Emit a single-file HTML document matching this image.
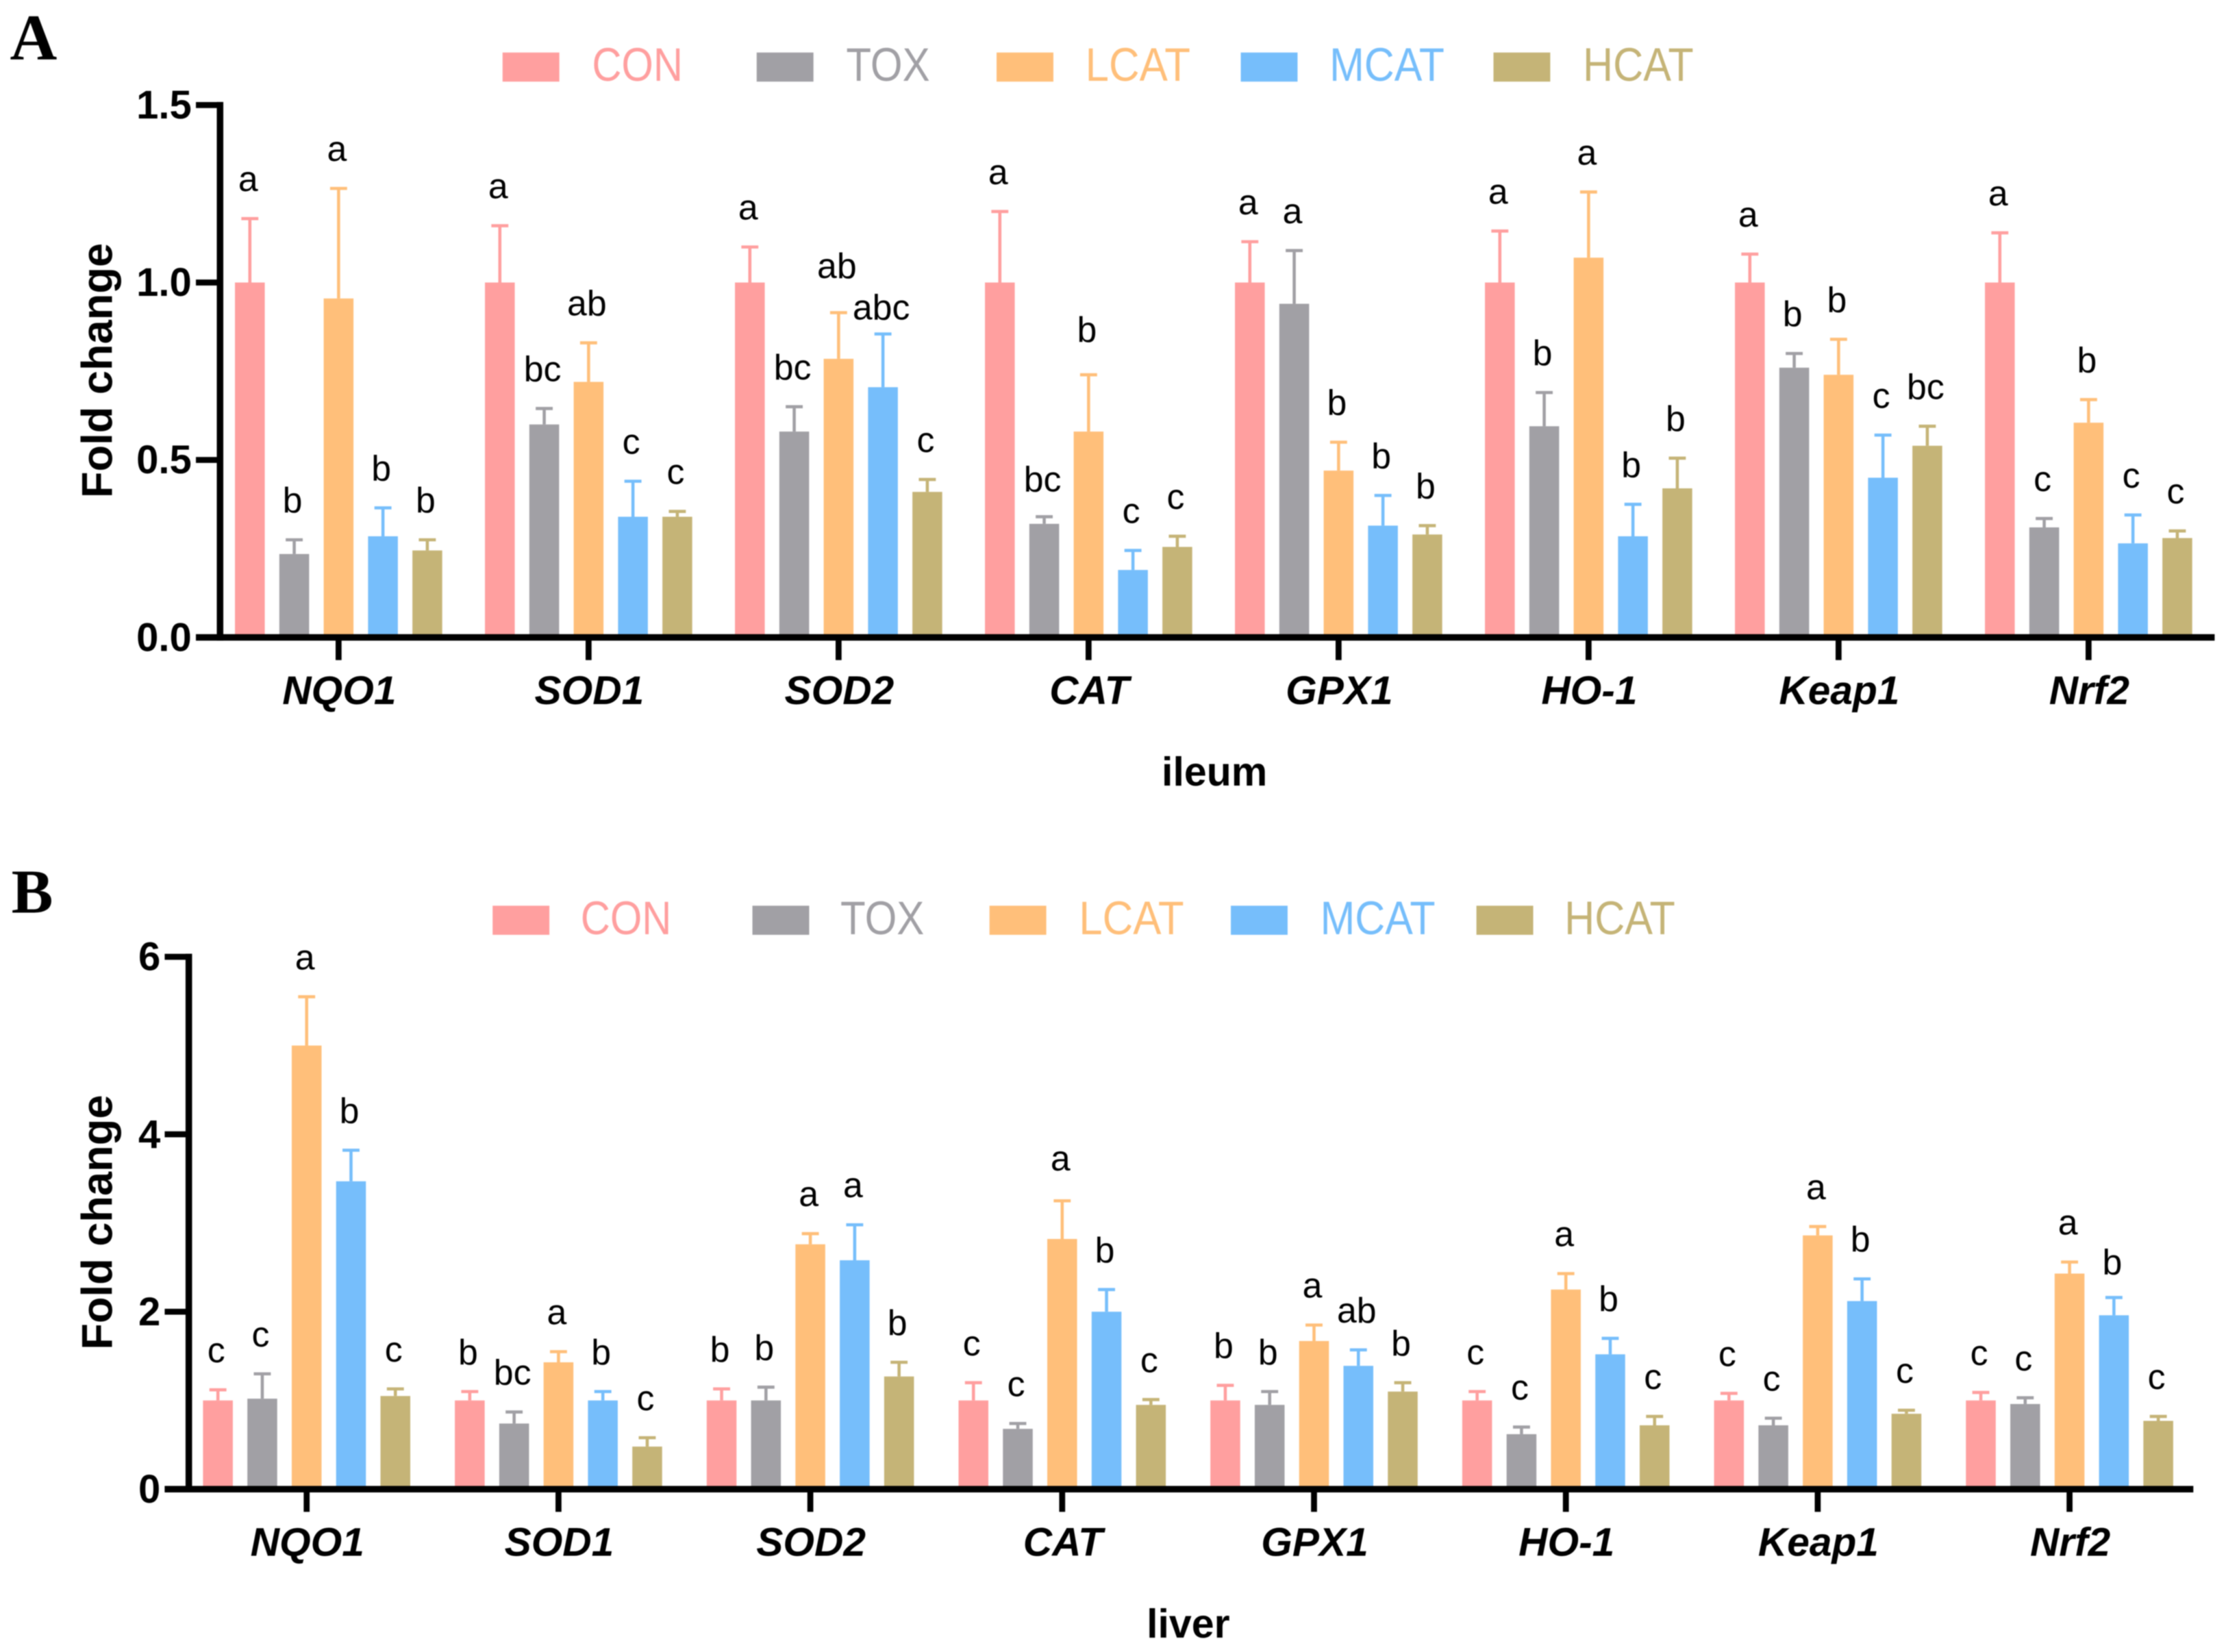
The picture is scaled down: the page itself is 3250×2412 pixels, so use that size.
<!DOCTYPE html>
<html lang="en">
<head>
<meta charset="utf-8">
<title>Fold change of antioxidant genes in ileum and liver</title>
<style>
html,body{margin:0;padding:0;background:#fff;width:3250px;height:2412px;overflow:hidden}
svg{display:block;filter:blur(.8px)}
text{font-family:"Liberation Sans",sans-serif}
</style>
</head>
<body>
<svg id="figure" xmlns="http://www.w3.org/2000/svg" width="3250" height="2412" viewBox="0 0 1568 1163.7">
  <rect x="0" y="0" width="1568" height="1164" fill="#fff"/>
  <text x="7" y="42" style="font-family:'Liberation Serif',serif;font-weight:700;font-size:46px">A</text>
  <text x="8" y="643" style="font-family:'Liberation Serif',serif;font-weight:700;font-size:44px">B</text>

  <g font-size="33">
    <rect x="354" y="37" width="40" height="20.5" fill="#FF9F9F"/>
    <text x="417" y="57" fill="#FF9F9F" textLength="64" lengthAdjust="spacingAndGlyphs">CON</text>
    <rect x="533" y="37" width="40" height="20.5" fill="#A1A0A5"/>
    <text x="596" y="57" fill="#A1A0A5" textLength="59" lengthAdjust="spacingAndGlyphs">TOX</text>
    <rect x="702" y="37" width="40" height="20.5" fill="#FFBF7A"/>
    <text x="764.5" y="57" fill="#FFBF7A" textLength="74" lengthAdjust="spacingAndGlyphs">LCAT</text>
    <rect x="874" y="37" width="40" height="20.5" fill="#76BEFB"/>
    <text x="936.5" y="57" fill="#76BEFB" textLength="81" lengthAdjust="spacingAndGlyphs">MCAT</text>
    <rect x="1052" y="37" width="40" height="20.5" fill="#C5B477"/>
    <text x="1115" y="57" fill="#C5B477" textLength="78" lengthAdjust="spacingAndGlyphs">HCAT</text>
  </g>
  <g font-size="33">
    <rect x="347" y="638" width="40" height="20.5" fill="#FF9F9F"/>
    <text x="409" y="658" fill="#FF9F9F" textLength="64" lengthAdjust="spacingAndGlyphs">CON</text>
    <rect x="530" y="638" width="40" height="20.5" fill="#A1A0A5"/>
    <text x="592" y="658" fill="#A1A0A5" textLength="59" lengthAdjust="spacingAndGlyphs">TOX</text>
    <rect x="697" y="638" width="40" height="20.5" fill="#FFBF7A"/>
    <text x="760" y="658" fill="#FFBF7A" textLength="74" lengthAdjust="spacingAndGlyphs">LCAT</text>
    <rect x="867" y="638" width="40" height="20.5" fill="#76BEFB"/>
    <text x="930" y="658" fill="#76BEFB" textLength="81" lengthAdjust="spacingAndGlyphs">MCAT</text>
    <rect x="1040" y="638" width="40" height="20.5" fill="#C5B477"/>
    <text x="1102" y="658" fill="#C5B477" textLength="78" lengthAdjust="spacingAndGlyphs">HCAT</text>
  </g>
  <g id="panel-a"></g>
  <g id="panel-b"></g>
</svg>
<script>
const categories = ["NQO1","SOD1","SOD2","CAT","GPX1","HO-1","Keap1","Nrf2"];
const seriesNames = ["CON","TOX","LCAT","MCAT","HCAT"];
const seriesColors = ["#FF9F9F","#A1A0A5","#FFBF7A","#76BEFB","#C5B477"];

const ileumTicks = [0, 0.5, 1.0, 1.5];
const ileumTickLabels = ["0.0","0.5","1.0","1.5"];
const ileumCON = [1.0,1.0,1.0,1.0,1.0,1.0,1.0,1.0];
const ileumTOX = [0.235,0.6,0.58,0.32,0.94,0.595,0.76,0.31];
const ileumLCAT = [0.955,0.72,0.785,0.58,0.47,1.07,0.74,0.605];
const ileumMCAT = [0.285,0.34,0.705,0.19,0.315,0.285,0.45,0.265];
const ileumHCAT = [0.245,0.34,0.41,0.255,0.29,0.42,0.54,0.28];
const ileumCONUpper = [1.18,1.16,1.10,1.20,1.115,1.145,1.08,1.14];
const ileumTOXUpper = [0.275,0.645,0.65,0.34,1.09,0.69,0.80,0.335];
const ileumLCATUpper = [1.265,0.83,0.915,0.74,0.55,1.255,0.84,0.67];
const ileumMCATUpper = [0.365,0.44,0.855,0.245,0.40,0.375,0.57,0.345];
const ileumHCATUpper = [0.275,0.355,0.445,0.285,0.315,0.505,0.595,0.30];
const ileumCONLetters = ["a","a","a","a","a","a","a","a"];
const ileumTOXLetters = ["b","bc","bc","bc","a","b","b","c"];
const ileumLCATLetters = ["a","ab","ab","b","b","a","b","b"];
const ileumMCATLetters = ["b","c","abc","c","b","b","c","c"];
const ileumHCATLetters = ["b","c","c","c","b","b","bc","c"];

const liverTicks = [0, 2, 4, 6];
const liverTickLabels = ["0","2","4","6"];
const liverCON = [1.0,1.0,1.0,1.0,1.0,1.0,1.0,1.0];
const liverTOX = [1.02,0.74,1.0,0.68,0.95,0.62,0.72,0.96];
const liverLCAT = [5.0,1.43,2.76,2.82,1.67,2.25,2.86,2.43];
const liverMCAT = [3.47,1.0,2.58,2.0,1.39,1.52,2.12,1.96];
const liverHCAT = [1.05,0.48,1.27,0.95,1.1,0.72,0.85,0.77];
const liverCONUpper = [1.12,1.10,1.13,1.20,1.17,1.10,1.08,1.09];
const liverTOXUpper = [1.30,0.87,1.15,0.74,1.10,0.70,0.80,1.03];
const liverLCATUpper = [5.55,1.55,2.88,3.25,1.85,2.43,2.96,2.56];
const liverMCATUpper = [3.82,1.10,2.98,2.25,1.57,1.70,2.37,2.16];
const liverHCATUpper = [1.13,0.58,1.43,1.01,1.20,0.82,0.89,0.82];
const liverCONLetters = ["c","b","b","c","b","c","c","c"];
const liverTOXLetters = ["c","bc","b","c","b","c","c","c"];
const liverLCATLetters = ["a","a","a","a","a","a","a","a"];
const liverMCATLetters = ["b","b","a","b","ab","b","b","b"];
const liverHCATLetters = ["c","c","b","c","b","c","c","c"];

const SVGNS = "http://www.w3.org/2000/svg";

function make(parent, tag, attrs, text) {
  const el = document.createElementNS(SVGNS, tag);
  for (const k in attrs) el.setAttribute(k, attrs[k]);
  if (text !== undefined) el.textContent = text;
  parent.appendChild(el);
  return el;
}

function drawPanel(root, cfg) {
  const yScale = v => cfg.yZero - (v / cfg.yMax) * (cfg.yZero - cfg.yTop);
  const groupX = g => cfg.firstBar + g * cfg.groupStep;
  const barX = (g, s) => groupX(g) + s * cfg.barStep;
  const barW = 21;

  cfg.means.forEach((series, s) => {
    const slug = seriesNames[s].toLowerCase();
    const color = seriesColors[s];
    series.forEach((value, g) => {
      const cx = barX(g, s);
      const top = yScale(value);
      const up = yScale(cfg.uppers[s][g]);
      const bar = make(root, "rect", {x: cx - barW / 2, y: top, width: barW, height: cfg.yZero - top, fill: color});
      
      
      const stem = make(root, "line", {x1: cx, x2: cx, y1: top, y2: up, stroke: color, "stroke-width": 2.2});
      
      
      const cap = make(root, "line", {x1: cx - 6, x2: cx + 6, y1: up, y2: up, stroke: color, "stroke-width": 2.2});
      
      
      const nudge = cfg.letterNudge[s + ":" + g] || 0;
      const letter = make(root, "text", {x: cx - 1.2, y: up - 19.3 + nudge, "text-anchor": "middle", "font-size": 25, fill: "#000"}, cfg.letters[s][g]);
      
      
    });
  });

  const yAxis = make(root, "line", {x1: cfg.axisX, x2: cfg.axisX, y1: cfg.yTop - 2.2, y2: cfg.yZero + 2.2, stroke: "#000", "stroke-width": 4.6});
  
  
  const xAxis = make(root, "line", {x1: cfg.axisX - 17, x2: cfg.xEnd, y1: cfg.yZero, y2: cfg.yZero, stroke: "#000", "stroke-width": 4.6});
  
  

  cfg.ticks.forEach((t, i) => {
    const y = yScale(t);
    const tick = make(root, "line", {x1: cfg.axisX - 17, x2: cfg.axisX, y1: y, y2: y, stroke: "#000", "stroke-width": 4.2});
    
    
    const label = make(root, "text", {x: cfg.axisX - 20, y: y + 9.5, "text-anchor": "end", "font-size": 28, "font-weight": 700}, cfg.tickLabels[i]);
    
    
  });

  categories.forEach((name, g) => {
    const x = barX(g, 2);
    const tick = make(root, "line", {x1: x, x2: x, y1: cfg.yZero, y2: cfg.yZero + 16, stroke: "#000", "stroke-width": 4.2});
    
    
    const label = make(root, "text", {x: x + 0.5, y: cfg.yZero + 47, "text-anchor": "middle", "font-size": 28.3, "font-weight": 700, "font-style": "italic"}, name);
    
    
  });

  const yTitle = make(root, "text", {transform: "translate(" + cfg.titleX + "," + (cfg.yZero - 188) + ") rotate(-90)", "text-anchor": "middle", "font-size": 30.5, "font-weight": 700}, "Fold change");
  
  
  const xTitle = make(root, "text", {x: cfg.xTitleX, y: cfg.yZero + 104.5, "text-anchor": "middle", "font-size": 28.5, "font-weight": 700}, cfg.xTitle);
  
  
}

drawPanel(document.getElementById("panel-a"), {
  means: [ileumCON, ileumTOX, ileumLCAT, ileumMCAT, ileumHCAT],
  uppers: [ileumCONUpper, ileumTOXUpper, ileumLCATUpper, ileumMCATUpper, ileumHCATUpper],
  letters: [ileumCONLetters, ileumTOXLetters, ileumLCATLetters, ileumMCATLetters, ileumHCATLetters],
  letterNudge: {"2:2": -5, "3:2": 9, "2:3": -4, "1:3": 1.5},
  ticks: ileumTicks, tickLabels: ileumTickLabels, yMax: 1.5,
  yZero: 449, yTop: 74, axisX: 155, xEnd: 1560,
  firstBar: 176, groupStep: 176.1, barStep: 31.25,
  titleX: 79, xTitle: "ileum", xTitleX: 855.5
});

drawPanel(document.getElementById("panel-b"), {
  means: [liverCON, liverTOX, liverLCAT, liverMCAT, liverHCAT],
  uppers: [liverCONUpper, liverTOXUpper, liverLCATUpper, liverMCATUpper, liverHCATUpper],
  letters: [liverCONLetters, liverTOXLetters, liverLCATLetters, liverMCATLetters, liverHCATLetters],
  letterNudge: {"2:3": -2, "3:7": 3},
  ticks: liverTicks, tickLabels: liverTickLabels, yMax: 6,
  yZero: 1049, yTop: 674, axisX: 133, xEnd: 1545,
  firstBar: 153.5, groupStep: 177.4, barStep: 31.25,
  titleX: 79, xTitle: "liver", xTitleX: 837
});
</script>
</body>
</html>
